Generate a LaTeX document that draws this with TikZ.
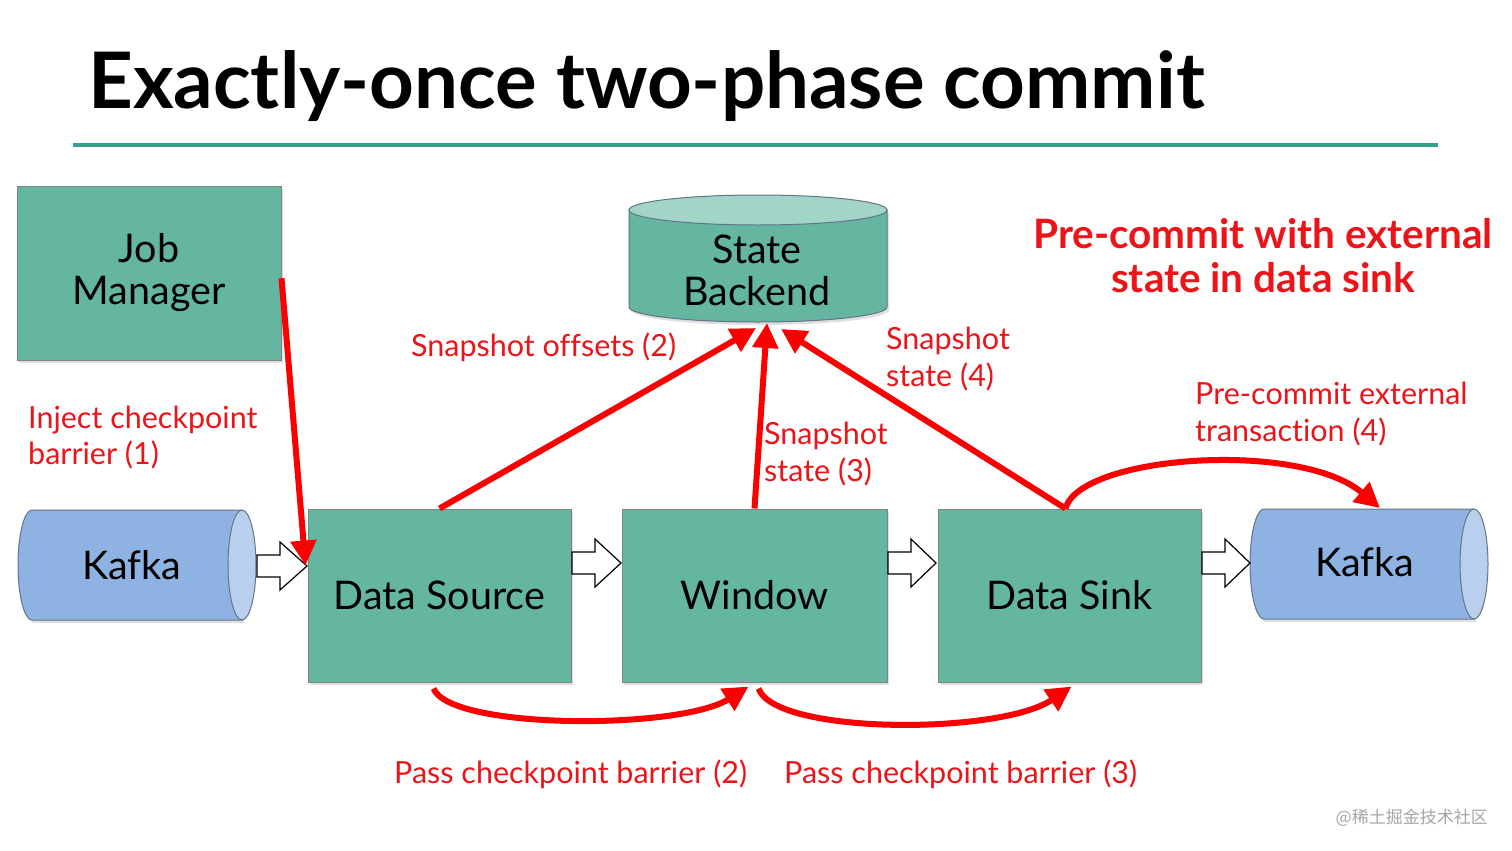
\documentclass[tikz,border=0pt]{standalone}
\usepackage{fontspec}
\setmainfont{Lato}[Ligatures=NoCommon]
\newfontfamily\cjk{Noto Sans CJK SC}
\usetikzlibrary{arrows.meta,shadows,calc}
\definecolor{boxteal}{RGB}{100,182,160}
\definecolor{topteal}{RGB}{162,212,200}
\definecolor{boxborder}{RGB}{120,135,132}
\definecolor{lineteal}{RGB}{52,160,140}
\definecolor{kafkablue}{RGB}{142,179,226}
\definecolor{kafkaend}{RGB}{184,208,238}
\definecolor{kafkaborder}{RGB}{100,115,135}
\definecolor{arrred}{RGB}{250,0,0}
\definecolor{labred}{RGB}{235,20,25}
\tikzset{
  box/.style={draw=boxborder, fill=boxteal, line width=1pt, align=center,
    font=\fontsize{39.5}{46}\selectfont,
    drop shadow={opacity=0.25, shadow xshift=2pt, shadow yshift=-3pt}},
  cylbody/.style={draw=kafkaborder, line width=1pt,
    drop shadow={opacity=0.25, shadow xshift=2pt, shadow yshift=-3pt}},
  plain/.style={inner sep=0pt, align=center, font=\fontsize{39.5}{46}\selectfont},
  redarr/.style={draw=arrred, line width=6pt, -{Triangle[length=25pt,width=25pt]}},
  lab/.style={text=labred, anchor=base west, inner sep=0pt, font=\fontsize{30.5}{36}\selectfont},
  hollow/.style={draw=black, fill=white, line width=1.2pt, line join=miter}
}
\newcommand\harrow[3]{% x start, x end, y center
  \draw[hollow] (#1,#3-11) -- (#1+23,#3-11) -- (#1+23,#3-24) -- (#2,#3) -- (#1+23,#3+24) -- (#1+23,#3+11) -- (#1,#3+11) -- cycle;}
\begin{document}
\begin{tikzpicture}[x=1pt,y=-1pt]
\useasboundingbox (0,0) rectangle (1512,851);
\fill[white] (0,0) rectangle (1512,851);

% title
\node[anchor=base west, inner sep=0pt, font=\fontsize{78}{86}\selectfont\bfseries] (title) at (88,108) {Exactly-once two-phase commit};
\draw[lineteal, line width=4pt] (73,145) -- (1438,145);

% boxes
\node[box, minimum width=264pt, minimum height=174pt] (jm) at (149,273) {Job\\[-4pt]Manager};
\node[box, minimum width=263pt, minimum height=173pt] (ds) at (439.5,595.5) {Data Source};
\node[box, minimum width=265pt, minimum height=173pt] (wi) at (754.5,595.5) {Window};
\node[box, minimum width=263pt, minimum height=173pt] (dk) at (1069.5,595.5) {Data Sink};

% state backend cylinder
\path[cylbody, fill=boxteal] (629,210) -- (629,307) arc[start angle=180, end angle=0, x radius=129, y radius=15] -- (887,210) -- cycle;
\filldraw[draw=kafkaborder, fill=topteal, line width=1pt] (758,210) ellipse [x radius=129, y radius=15];
\node[plain] (sb) at (757,270) {State\\[-4pt]Backend};

% left kafka
\path[cylbody, fill=kafkablue] (242,510) -- (32,510) arc[start angle=270, end angle=90, x radius=14, y radius=55] -- (242,620) -- cycle;
\filldraw[draw=kafkaborder, fill=kafkaend, line width=1pt] (242,565) ellipse [x radius=14, y radius=55];
\node[plain] (kl) at (132,565) {Kafka};

% right kafka
\path[cylbody, fill=kafkablue] (1474,509) -- (1264,509) arc[start angle=270, end angle=90, x radius=14, y radius=55] -- (1474,619) -- cycle;
\filldraw[draw=kafkaborder, fill=kafkaend, line width=1pt] (1474,564) ellipse [x radius=14, y radius=55];
\node[plain] (kr) at (1365,562) {Kafka};

% hollow arrows
\harrow{257}{307}{566}
\harrow{572}{621}{563}
\harrow{888}{936}{563}
\harrow{1202}{1250}{563}

% red arrows
\coordinate (jmout) at ($(jm.north east)!0.53!(jm.south east)$);
\draw[redarr] (jmout) -- ([xshift=-2pt,yshift=30pt]ds.west);
\draw[redarr] (ds.north) -- (756,328);
\draw[redarr] (wi.north) -- (767,323);
\draw[redarr] ([xshift=-4pt]dk.north) -- (781,329);
\draw[redarr] ([xshift=-4pt]dk.north) .. controls (1080,455) and (1300,440) .. ([xshift=15pt]kr.north |- 0,508);
\draw[redarr] ([xshift=-6pt,yshift=-6pt]ds.south) .. controls (450,730) and (680,730) .. ([xshift=-6pt,yshift=-4pt]wi.south);
\draw[redarr] ([xshift=4pt,yshift=-6pt]wi.south) .. controls (775,735) and (1000,735) .. ([xshift=2pt,yshift=-4pt]dk.south);

% labels
\node[lab] (l1a) at (28,428) {Inject checkpoint};
\node[lab] (l1b) at (28,464) {barrier (1)};
\node[lab] (l2) at (411,356) {Snapshot offsets (2)};
\node[lab] (l4a) at (886,349) {Snapshot};
\node[lab] (l4b) at (886,386) {state (4)};
\node[lab] (l3a) at (764,444) {Snapshot};
\node[lab] (l3b) at (764,481) {state (3)};
\node[lab] (l5a) at (1195,404) {Pre-commit external};
\node[lab] (l5b) at (1195,441) {transaction (4)};
\node[lab] (l6) at (394,783) {Pass checkpoint barrier (2)};
\node[lab] (l7) at (784,783) {Pass checkpoint barrier (3)};

\node[text=labred, anchor=base, inner sep=0pt, font=\fontsize{40.5}{44}\selectfont\bfseries] (h1) at (1263,248) {Pre-commit with external};
\node[text=labred, anchor=base, inner sep=0pt, font=\fontsize{40.5}{44}\selectfont\bfseries] (h2) at (1263,292) {state in data sink};

\node[anchor=base east, inner sep=0pt, text=black!35, font=\cjk\fontsize{17}{20}\selectfont] (wm) at (1488,823) {@稀土掘金技术社区};
\end{tikzpicture}
\end{document}
